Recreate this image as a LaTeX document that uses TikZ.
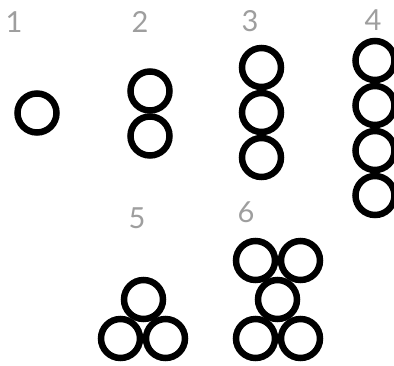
\documentclass[tikz,border=0pt]{standalone}
\usepackage{fontspec}
\setmainfont{Lato}
\begin{document}
\begin{tikzpicture}[x=1pt,y=-1pt,
  ring/.style={circle,draw=black,line width=6.5pt,minimum size=39pt,inner sep=0pt},
  num/.style={text=black!38,font=\fontsize{29}{29}\selectfont,inner sep=0pt}]
\useasboundingbox (0,0) rectangle (394,365);
% labels
\node[num] (l1) at (14,22) {1};
\node[num] (l2) at (140,22) {2};
\node[num] (l3) at (250,21) {3};
\node[num] (l4) at (373,20) {4};
\node[num] (l5) at (137,218) {5};
\node[num] (l6) at (246,212) {6};
% group 1
\node[ring] (a1) at (37,113) {};
% group 2
\node[ring] (b1) at (150,91) {};
\node[ring] (b2) at (150,136) {};
% group 3
\node[ring] (c1) at (261.5,67.5) {};
\node[ring] (c2) at (261.5,112.5) {};
\node[ring] (c3) at (261.5,157.5) {};
% group 4
\node[ring] (d1) at (375,60.5) {};
\node[ring] (d2) at (375,105.5) {};
\node[ring] (d3) at (375,150.5) {};
\node[ring] (d4) at (375,195.5) {};
% group 5
\node[ring] (e1) at (143.5,299.5) {};
\node[ring] (e2) at (120.5,338.5) {};
\node[ring] (e3) at (165.5,338.5) {};
% group 6
\node[ring] (f1) at (255.5,260.5) {};
\node[ring] (f2) at (300.5,260.5) {};
\node[ring] (f3) at (277.5,299.5) {};
\node[ring] (f4) at (255.5,338.5) {};
\node[ring] (f5) at (300.5,338.5) {};
\end{tikzpicture}
\end{document}
